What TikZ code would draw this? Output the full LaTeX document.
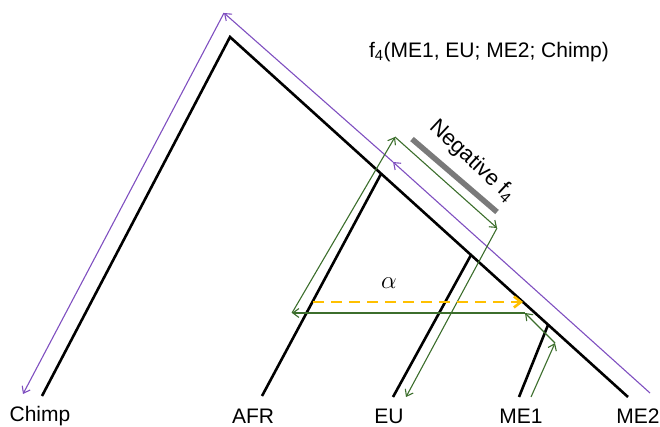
\documentclass[tikz,border=0pt]{standalone}
\usepackage{fontspec}
\setmainfont{Liberation Sans}
\usetikzlibrary{arrows.meta}
\definecolor{purp}{HTML}{7F4FC0}
\definecolor{grn}{HTML}{3C6E2C}
\definecolor{yel}{HTML}{FFC000}
\definecolor{gbar}{HTML}{7A7A7A}
\begin{document}
\begin{tikzpicture}[x=1pt,y=-1pt,
  tree/.style={line width=2.6pt, black},
  barb/.style={-{Straight Barb[length=6pt,width=9pt]}},
  ppath/.style={purp, line width=1.1pt, barb},
  gpath/.style={grn, line width=1.1pt, barb},
  adm/.style={yel, line width=2.6pt, dash pattern=on 11pt off 7pt, -{Straight Barb[length=7pt,width=11pt]}},
  leaf/.style={font=\fontsize{21}{25}\selectfont, inner sep=0pt},
]
\useasboundingbox (0,0) rectangle (660,427);
% tree
\coordinate (root) at (230,37);
\coordinate (chimpL) at (42,396);
\coordinate (me2L) at (628,397);
\coordinate (jafr) at (381,174);
\coordinate (afrL) at (262,396);
\coordinate (jeu) at (471,255);
\coordinate (euL) at (393,397);
\coordinate (jme1) at (548,325);
\coordinate (me1L) at (519,397);
\draw[tree, line join=miter] (chimpL) -- (root) -- (me2L);
\draw[tree] (jafr) -- (afrL);
\draw[tree] (jeu) -- (euL);
\draw[tree] (jme1) -- (me1L);
% labels
\node[leaf] (chimp) at (40,416) {Chimp};
\node[leaf] (afr) at (253,416) {AFR};
\node[leaf] (eu) at (389,416) {EU};
\node[leaf] (me1) at (521,416) {ME1};
\node[leaf] (me2) at (638,416) {ME2};
% purple path
\coordinate (p1) at (650,393);
\coordinate (p2) at (393,162);
\coordinate (p3) at (224,13);
\coordinate (p4) at (23,394);
\draw[ppath] (p1) -- (p2);
\draw[ppath] (p2) -- (p3);
\draw[ppath] (p3) -- (p4);
% green path
\coordinate (g1) at (531,397);
\coordinate (g2) at (555,343);
\coordinate (g3) at (525,313);
\coordinate (g4) at (292,313);
\coordinate (g5) at (395,137);
\coordinate (g6) at (497,228);
\coordinate (g7) at (406,397);
\draw[gpath] (g1) -- (g2);
\draw[gpath] (g2) -- (g3);
\draw[gpath] (g3) -- (g4);
\draw[gpath] (g4) -- (g5);
\draw[gpath] (g5) -- (g6);
\draw[gpath] (g6) -- (g7);
% admixture
\coordinate (a1) at (313,302);
\coordinate (a2) at (523,302);
\draw[adm] (a1) -- (a2);
\node (alpha) at (389,283) {\fontsize{25}{29}\selectfont$\alpha$};
% negative f4 bar
\coordinate (b1) at (412,139);
\coordinate (b2) at (497,212);
\draw[gbar, line width=5.5pt] (b1) -- (b2);
\node[rotate=-43, font=\fontsize{22}{26}\selectfont, inner sep=0pt] (neg) at (472,161) {Negative f\textsubscript{4}};
% title
\node[font=\fontsize{21}{25}\selectfont, inner sep=0pt] (title) at (489,52) {f\textsubscript{4}(ME1, EU; ME2; Chimp)};
\end{tikzpicture}
\end{document}
